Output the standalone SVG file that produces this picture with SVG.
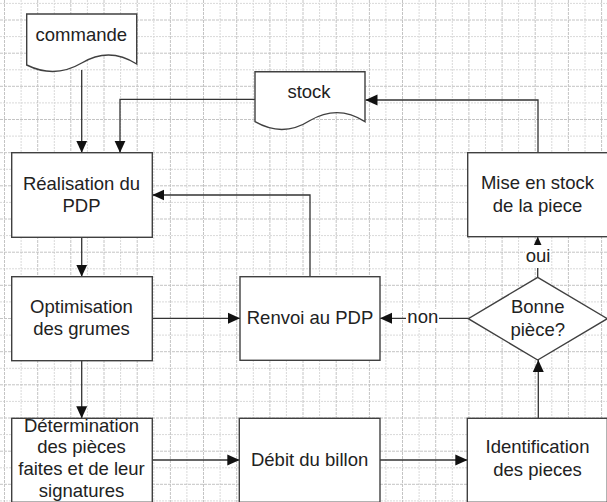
<svg xmlns="http://www.w3.org/2000/svg" width="607" height="502" viewBox="0 0 607 502">
<style>
.gmaj{fill:none;stroke:#c4c4c4;stroke-width:1;stroke-dasharray:3 1}
.gmin{fill:none;stroke:#d9d9d9;stroke-width:1;stroke-dasharray:2 1}
.box{fill:#fff;stroke:#404040;stroke-width:1.4}
.con{fill:none;stroke:#333;stroke-width:1.3}
text{font-family:"Liberation Sans",Arial,sans-serif;font-size:18.5px;fill:#222;text-anchor:middle}
.lbg{fill:#fff;stroke:none}
</style>
<defs>
<marker id="ah" markerUnits="userSpaceOnUse" markerWidth="12" markerHeight="12" viewBox="0 0 12 12" refX="12" refY="6" orient="auto">
<path d="M0,0.5 L12,6 L0,11.5 Z" fill="#111"/>
</marker>
</defs>
<rect x="0" y="0" width="607" height="502" fill="#fff"/>
<g id="grid">
<path class="gmin" d="M21.1 0V502M54.3 0V502M87.4 0V502M120.6 0V502M153.8 0V502M186.9 0V502M220.1 0V502M253.3 0V502M286.4 0V502M319.6 0V502M352.8 0V502M385.9 0V502M419.1 0V502M452.3 0V502M485.5 0V502M518.6 0V502M551.8 0V502M585 0V502M0 3.4H607M0 36.6H607M0 69.8H607M0 102.9H607M0 136.1H607M0 169.3H607M0 202.4H607M0 235.6H607M0 268.8H607M0 301.9H607M0 335.1H607M0 368.3H607M0 401.4H607M0 434.6H607M0 467.8H607M0 500.9H607"/>
<path class="gmaj" d="M4.5 0V502M37.7 0V502M70.8 0V502M104 0V502M137.2 0V502M170.4 0V502M203.5 0V502M236.7 0V502M269.9 0V502M303 0V502M336.2 0V502M369.4 0V502M402.5 0V502M435.7 0V502M468.9 0V502M502.1 0V502M535.2 0V502M568.4 0V502M601.6 0V502M0 20H607M0 53.2H607M0 86.3H607M0 119.5H607M0 152.7H607M0 185.8H607M0 219H607M0 252.2H607M0 285.3H607M0 318.5H607M0 351.7H607M0 384.8H607M0 418H607M0 451.2H607M0 484.3H607"/>
</g>
<g id="connectors">
<path class="con" d="M81.7 70V152.7" marker-end="url(#ah)"/>
<path class="con" d="M255 99.3H120V152.7" marker-end="url(#ah)"/>
<path class="con" d="M538 152.7V100H365.5" marker-end="url(#ah)"/>
<path class="con" d="M81.7 237.3V276.7" marker-end="url(#ah)"/>
<path class="con" d="M152.3 318.3H240" marker-end="url(#ah)"/>
<path class="con" d="M310 276.7V195H152.3" marker-end="url(#ah)"/>
<path class="con" d="M81.7 360.7V418.3" marker-end="url(#ah)"/>
<path class="con" d="M152.3 460H239.3" marker-end="url(#ah)"/>
<path class="con" d="M380 460H467.3" marker-end="url(#ah)"/>
<path class="con" d="M538.3 418.3V360" marker-end="url(#ah)"/>
<path class="con" d="M537.7 277.3V236.7" marker-end="url(#ah)"/>
<path class="con" d="M468.3 318.3H380" marker-end="url(#ah)"/>
<rect class="lbg" x="525" y="245" width="26" height="23"/>
<text x="538" y="261.7">oui</text>
<rect class="lbg" x="406" y="309" width="33" height="19"/>
<text x="422.8" y="322.7">non</text>
</g>
<g id="commande">
<path class="box" d="M26.7 14H136.7V64C118 52 100 52 81.7 63C63 74 45 74 26.7 65Z"/>
<text x="81.3" y="41">commande</text>
</g>
<g id="stock">
<path class="box" d="M255 71.7H365V121.7C347 110 328 110 310 120.5C292 132 273 132 255 121.7Z"/>
<text x="309" y="97.7">stock</text>
</g>
<g id="realisation">
<rect class="box" x="11.7" y="152.7" width="140.6" height="84.6"/>
<text x="81.5" y="190">Réalisation du</text>
<text x="81.5" y="211.7">PDP</text>
</g>
<g id="optimisation">
<rect class="box" x="11.7" y="276.7" width="140.6" height="84"/>
<text x="81.5" y="313">Optimisation</text>
<text x="81.5" y="334.7">des grumes</text>
</g>
<g id="determination">
<rect class="box" x="11.7" y="418.3" width="140.6" height="84"/>
<text x="81.5" y="431.7">Détermination</text>
<text x="81.5" y="453.4">des pièces</text>
<text x="81.5" y="475.1">faites et de leur</text>
<text x="81.5" y="496.8">signatures</text>
</g>
<g id="renvoi">
<rect class="box" x="240" y="276.7" width="140" height="83.6"/>
<text x="310" y="324.3">Renvoi au PDP</text>
</g>
<g id="debit">
<rect class="box" x="239.3" y="418.3" width="140.7" height="84"/>
<text x="309.6" y="465.7">Débit du billon</text>
</g>
<g id="identification">
<rect class="box" x="467.3" y="418.3" width="140" height="84"/>
<text x="537.5" y="453.3">Identification</text>
<text x="537.5" y="476">des pieces</text>
</g>
<g id="misenstock">
<rect class="box" x="467.7" y="152.7" width="140" height="84"/>
<text x="537.5" y="189">Mise en stock</text>
<text x="537.5" y="211.7">de la piece</text>
</g>
<g id="bonnepiece">
<path class="box" d="M537.7 277.3L607.4 318.7L537.7 360L468.3 318.7Z"/>
<text x="537.7" y="313.3">Bonne</text>
<text x="537.7" y="335.7">pièce?</text>
</g>
</svg>
